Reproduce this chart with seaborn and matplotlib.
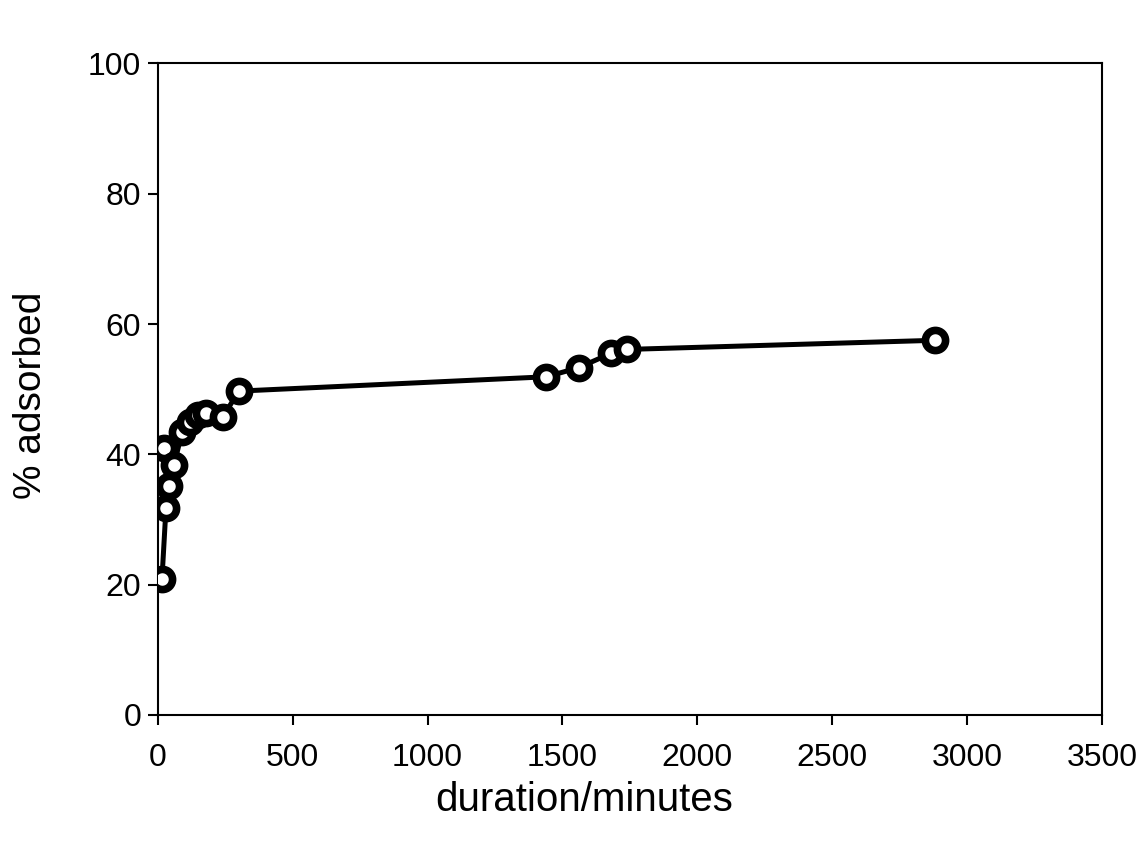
import matplotlib
matplotlib.use("Agg")
import matplotlib.pyplot as plt
import seaborn as sns
import pandas as pd

# Data (duration in minutes, % adsorbed), in drawing order
duration = [15, 30, 42, 22, 60, 90, 120, 150, 180, 240, 300, 1440, 1560, 1680, 1740, 2880]
adsorbed = [20.8, 31.8, 35.1, 41.0, 38.4, 43.5, 45.0, 46.0, 46.4, 45.7, 49.7, 51.9, 53.3, 55.5, 56.1, 57.5]

x_ticks = [0, 500, 1000, 1500, 2000, 2500, 3000, 3500]
y_ticks = [0, 20, 40, 60, 80, 100]

sns.set_style("ticks")
plt.rcParams['font.family'] = ['Liberation Sans', 'DejaVu Sans']

df = pd.DataFrame({"duration/minutes": duration, "% adsorbed": adsorbed})

fig = plt.figure(figsize=(11.36, 8.46), dpi=100)
ax = fig.add_axes([0.139, 0.155, 0.831, 0.770])

sns.lineplot(data=df, x="duration/minutes", y="% adsorbed", sort=False,
             estimator=None, color="black", linewidth=3.6, marker="o",
             markersize=14.5, markerfacecolor="white", markeredgecolor="black",
             markeredgewidth=5.5, ax=ax, zorder=3)

ax.set_xlim(0, 3500)
ax.set_ylim(0, 100)
ax.set_xticks(x_ticks)
ax.set_yticks(y_ticks)
for s in ax.spines.values():
    s.set_visible(True)
    s.set_color("black")
    s.set_linewidth(1.5)
ax.tick_params(axis="both", direction="out", length=7, width=1.5,
               labelsize=23, colors="black")
ax.tick_params(axis="x", pad=13)
ax.tick_params(axis="y", pad=5)
ax.set_xlabel("duration/minutes", fontsize=29, color="black")
ax.set_ylabel("% adsorbed", fontsize=28, color="black")
ax.xaxis.set_label_coords(0.452, -0.13)
ax.xaxis.label.set_va("center")
ax.yaxis.set_label_coords(-0.1345, 0.491)
ax.yaxis.label.set_va("center")
ax.grid(False)

fig.savefig("out.png", dpi=100, facecolor="white")
